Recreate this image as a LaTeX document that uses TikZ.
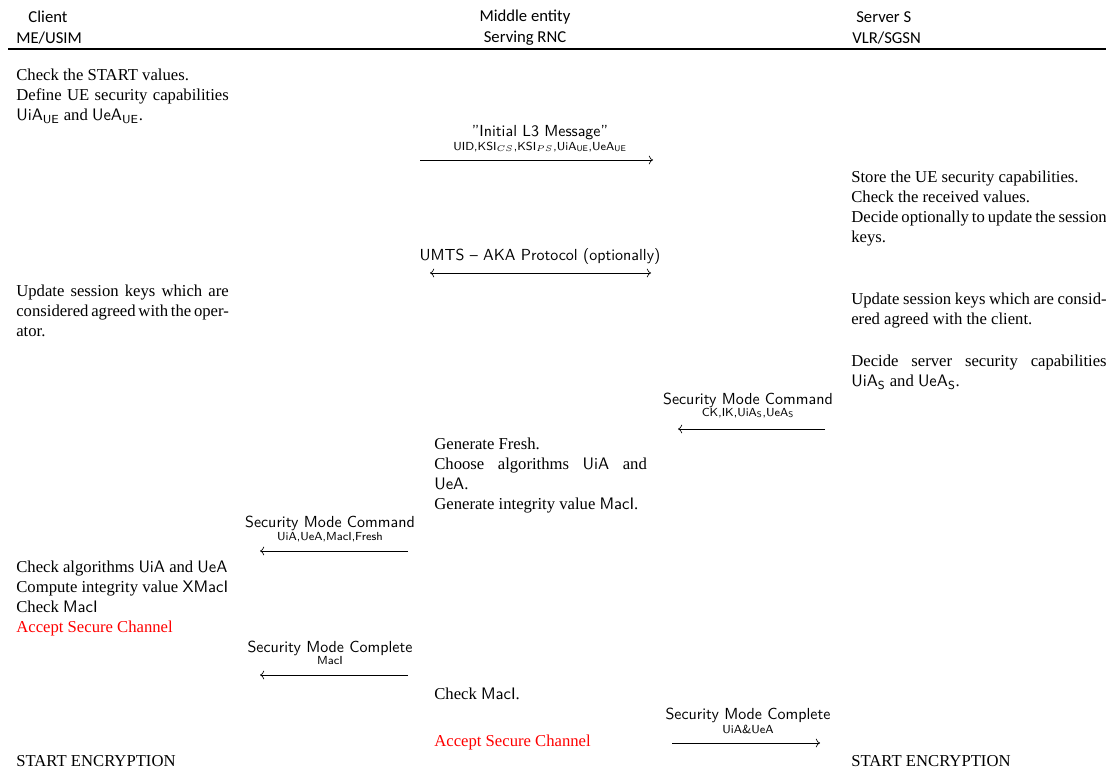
\documentclass[tikz,border=0pt]{standalone}
\usepackage{fontspec}
\setmainfont{Liberation Serif}
\newfontfamily\hdrfont{Carlito}
\usetikzlibrary{arrows.meta}
\begin{document}
\begin{tikzpicture}[x=0.6pt,y=-0.6pt,
  hdr/.style={font=\hdrfont\fontsize{10}{12}\selectfont, inner sep=0pt},
  para/.style={anchor=north west, inner sep=0pt, align=justify, font=\fontsize{10}{12}\selectfont},
  lcol/.style={para, text width=127.5pt},
  rcol/.style={para, text width=153.2pt},
  mlabel/.style={inner sep=0pt, font=\sffamily\fontsize{9.6}{11.5}\selectfont},
  slabel/.style={inner sep=0pt, font=\sffamily\scriptsize},
  msg/.style={->, line width=0.4pt},
  msgb/.style={<->, line width=0.4pt}]
\useasboundingbox (0,0) rectangle (1106,772);
% header
\node[hdr] (h1a) at (48,17) {Client};
\node[hdr, anchor=west] (h1b) at (16,38) {ME/USIM};
\node[hdr] (h2a) at (525,17) {Middle entity};
\node[hdr] (h2b) at (525,38) {Serving RNC};
\node[hdr, anchor=west] (h3a) at (856,17) {Server S};
\node[hdr, anchor=west] (h3b) at (852,38) {VLR/SGSN};
\coordinate (rl) at (8,49);
\coordinate (rr) at (1106,49);
\draw[line width=0.8pt] (rl) -- (rr);
% left column
\node[lcol] (l1) at (16,69) {Check the START values.\\ Define UE security capabilities \textsf{UiA}$_{\mathsf{UE}}$ and \textsf{UeA}$_{\mathsf{UE}}$.};
\node[lcol] (l2) at (16,285) {\makebox[127.5pt][s]{Update session keys which are}\\ \makebox[127.5pt][s]{considered agreed with the oper-}\\ ator.};
\node[lcol] (l3) at (16,561) {Check algorithms \textsf{UiA} and \textsf{UeA}\\ Compute integrity value \textsf{XMacI}\\ Check \textsf{MacI}\\ \textcolor{red}{Accept Secure Channel}};
\node[para] (l4) at (16,755) {START ENCRYPTION};
% middle column
\node[lcol] (m1) at (434,438) {Generate Fresh.\\ Choose algorithms \textsf{UiA} and \textsf{UeA}.\\ Generate integrity value \textsf{MacI}.};
\node[para] (m2) at (434,688) {Check \textsf{MacI}.};
\node[para, text=red] (m3) at (434,735) {Accept Secure Channel};
% right column
\node[rcol] (r1) at (851,171) {Store the UE security capabilities.\\ Check the received values.\\ Decide optionally to update the session keys.};
\node[rcol] (r2) at (851,293) {Update session keys which are considered agreed with the client.};
\node[rcol] (r3) at (851,355) {Decide server security capabilities \textsf{UiA}$_{\mathsf{S}}$ and \textsf{UeA}$_{\mathsf{S}}$.};
\node[para] (r4) at (851,755) {START ENCRYPTION};
% message 1
\node[mlabel] (t1) at (540,133) {''Initial L3 Message''};
\node[slabel] (s1) at (540,147) {UID,KSI$_{CS}$,KSI$_{PS}$,UiA$_{\mathsf{UE}}$,UeA$_{\mathsf{UE}}$};
\coordinate (a1s) at (420,160);
\coordinate (a1e) at (653,160);
\draw[msg] (a1s) -- (a1e);
% message 2
\node[mlabel] (t2) at (540,257) {UMTS -- AKA Protocol (optionally)};
\coordinate (a2s) at (430,273);
\coordinate (a2e) at (651,273);
\draw[msgb] (a2s) -- (a2e);
% message 3
\node[mlabel] (t3) at (748,400) {Security Mode Command};
\node[slabel] (s3) at (748,413) {CK,IK,UiA$_{\mathsf{S}}$,UeA$_{\mathsf{S}}$};
\coordinate (a3s) at (825,429);
\coordinate (a3e) at (678,429);
\draw[msg] (a3s) -- (a3e);
% message 4
\node[mlabel] (t4) at (330,523) {Security Mode Command};
\node[slabel] (s4) at (330,537) {UiA,UeA,MacI,Fresh};
\coordinate (a4s) at (408,551);
\coordinate (a4e) at (260,551);
\draw[msg] (a4s) -- (a4e);
% message 5
\node[mlabel] (t5) at (330,648) {Security Mode Complete};
\node[slabel] (s5) at (330,661) {MacI};
\coordinate (a5s) at (408,675);
\coordinate (a5e) at (260,675);
\draw[msg] (a5s) -- (a5e);
% message 6
\node[mlabel] (t6) at (748,715) {Security Mode Complete};
\node[slabel] (s6) at (748,729) {UiA\&UeA};
\coordinate (a6s) at (672,743);
\coordinate (a6e) at (820,743);
\draw[msg] (a6s) -- (a6e);
\end{tikzpicture}
\end{document}
